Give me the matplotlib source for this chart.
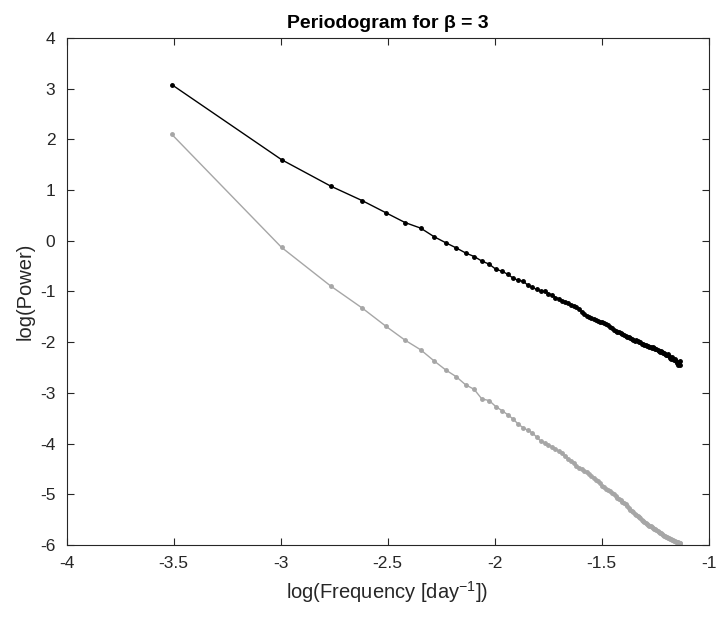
import matplotlib
matplotlib.use("Agg")
import matplotlib.pyplot as plt

plt.rcParams['font.family'] = ['Liberation Sans', 'DejaVu Sans']
plt.rcParams['mathtext.fontset'] = 'custom'
plt.rcParams['mathtext.rm'] = 'Liberation Sans'
plt.rcParams['mathtext.it'] = 'Liberation Sans:italic'

log_freq = [
    -3.508, -2.995, -2.766, -2.617, -2.506, -2.418, -2.345, -2.282, -2.227, -2.179,
    -2.135, -2.095, -2.059, -2.025, -1.994, -1.965, -1.938, -1.912, -1.888, -1.865,
    -1.843, -1.823, -1.803, -1.784, -1.766, -1.748, -1.732, -1.715, -1.700, -1.685,
    -1.670, -1.656, -1.643, -1.630, -1.617, -1.604, -1.592, -1.581, -1.569, -1.558,
    -1.547, -1.536, -1.526, -1.516, -1.506, -1.496, -1.487, -1.478, -1.469, -1.460,
    -1.451, -1.443, -1.434, -1.426, -1.418, -1.410, -1.402, -1.395, -1.387, -1.380,
    -1.373, -1.365, -1.358, -1.352, -1.345, -1.338, -1.331, -1.325, -1.319, -1.312,
    -1.306, -1.300, -1.294, -1.288, -1.282, -1.276, -1.271, -1.265, -1.259, -1.254,
    -1.248, -1.243, -1.238, -1.232, -1.227, -1.222, -1.217, -1.212, -1.207, -1.202,
    -1.198, -1.193, -1.188, -1.183, -1.179, -1.174, -1.170, -1.165, -1.161, -1.156,
    -1.152, -1.148, -1.143, -1.139, -1.135, -1.131,
]

log_power_black = [
    3.08, 1.60, 1.08, 0.79, 0.55, 0.36, 0.25, 0.08, -0.04, -0.14,
    -0.24, -0.31, -0.40, -0.46, -0.56, -0.60, -0.66, -0.74, -0.78, -0.80,
    -0.88, -0.92, -0.96, -0.99, -1.00, -1.04, -1.07, -1.12, -1.14, -1.19,
    -1.20, -1.23, -1.27, -1.28, -1.30, -1.35, -1.40, -1.44, -1.48, -1.50,
    -1.53, -1.55, -1.57, -1.58, -1.60, -1.61, -1.63, -1.65, -1.67, -1.70,
    -1.72, -1.75, -1.77, -1.79, -1.80, -1.82, -1.84, -1.86, -1.87, -1.89,
    -1.90, -1.92, -1.94, -1.95, -1.97, -1.96, -1.98, -1.99, -2.00, -2.03,
    -2.04, -2.05, -2.06, -2.07, -2.08, -2.09, -2.09, -2.11, -2.10, -2.12,
    -2.14, -2.13, -2.15, -2.17, -2.19, -2.18, -2.20, -2.22, -2.21, -2.24,
    -2.25, -2.26, -2.24, -2.28, -2.31, -2.33, -2.30, -2.34, -2.36, -2.33,
    -2.38, -2.42, -2.45, -2.40, -2.44, -2.38,
]

log_power_gray = [
    2.10, -0.13, -0.89, -1.33, -1.69, -1.96, -2.15, -2.37, -2.55, -2.68,
    -2.84, -2.93, -3.12, -3.15, -3.27, -3.35, -3.43, -3.52, -3.62, -3.69,
    -3.74, -3.79, -3.87, -3.95, -3.98, -4.02, -4.06, -4.11, -4.15, -4.19,
    -4.25, -4.30, -4.34, -4.38, -4.45, -4.49, -4.51, -4.54, -4.57, -4.60,
    -4.64, -4.67, -4.71, -4.74, -4.78, -4.83, -4.86, -4.89, -4.91, -4.94,
    -4.97, -5.00, -5.04, -5.07, -5.09, -5.12, -5.15, -5.18, -5.20, -5.24,
    -5.27, -5.30, -5.33, -5.35, -5.38, -5.40, -5.43, -5.45, -5.47, -5.50,
    -5.52, -5.54, -5.56, -5.58, -5.60, -5.62, -5.63, -5.65, -5.66, -5.68,
    -5.69, -5.71, -5.72, -5.74, -5.76, -5.77, -5.79, -5.80, -5.82, -5.83,
    -5.84, -5.85, -5.86, -5.87, -5.88, -5.89, -5.90, -5.91, -5.92, -5.93,
    -5.94, -5.94, -5.95, -5.96, -5.96, -5.97,
]

x_ticks = [-4, -3.5, -3, -2.5, -2, -1.5, -1]
x_tick_labels = ['-4', '-3.5', '-3', '-2.5', '-2', '-1.5', '-1']
y_ticks = [4, 3, 2, 1, 0, -1, -2, -3, -4, -5, -6]

fig = plt.figure(figsize=(7.19, 6.17), dpi=100)
left, right, top, bottom = 66.5, 708.5, 38, 545
ax = fig.add_axes([left / 719, 1 - bottom / 617, (right - left) / 719, (bottom - top) / 617])

ax.plot(log_freq, log_power_gray, color='#a6a6a6', lw=1.0, marker='.', ms=5)
ax.plot(log_freq, log_power_black, color='black', lw=1.0, marker='.', ms=5)

ax.set_xlim(-4, -1)
ax.set_ylim(-6, 4)
ax.set_xticks(x_ticks)
ax.set_xticklabels(x_tick_labels)
ax.set_yticks(y_ticks)
ax.set_yticklabels([str(v) for v in y_ticks])

axc = '#262626'
for s in ax.spines.values():
    s.set_color(axc)
    s.set_linewidth(0.8)
ax.tick_params(direction='in', top=True, right=True, length=5, width=0.8,
               colors=axc, labelsize=12.5, labelcolor='#262626')
ax.tick_params(axis='x', pad=8)
ax.tick_params(axis='y', pad=8)

ax.set_title('Periodogram for β = 3', fontsize=14, fontweight='bold', pad=7)
ax.set_xlabel('log(Frequency [day$^{-1}$])', fontsize=14.5, color='#262626', labelpad=6)
ax.set_ylabel('log(Power)', fontsize=14.5, color='#262626', labelpad=4)

fig.savefig('out.png', dpi=100, facecolor='white')
